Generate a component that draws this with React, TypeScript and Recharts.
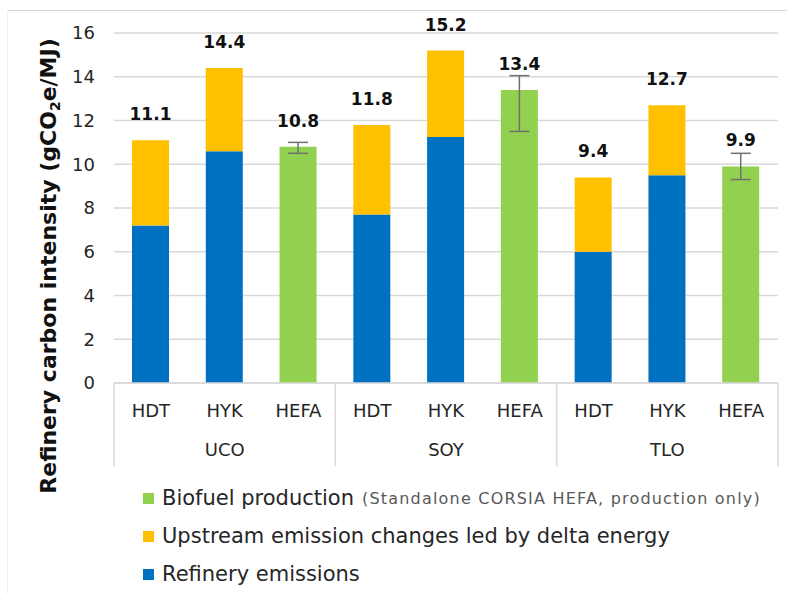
import React from 'react';
import { BarChart, Bar, XAxis, YAxis, CartesianGrid, ErrorBar, LabelList } from 'recharts';

const techs = ['HDT', 'HYK', 'HEFA', 'HDT', 'HYK', 'HEFA', 'HDT', 'HYK', 'HEFA'];
const feeds = ['UCO', 'UCO', 'UCO', 'SOY', 'SOY', 'SOY', 'TLO', 'TLO', 'TLO'];
const refineryEmissions = [7.2, 10.6, null, 7.7, 11.25, null, 6.0, 9.5, null];
const upstreamChanges = [3.9, 3.8, null, 4.1, 3.95, null, 3.4, 3.2, null];
const biofuelProduction = [null, null, 10.8, null, null, 13.4, null, null, 9.9];
const totals = [11.1, 14.4, 10.8, 11.8, 15.2, 13.4, 9.4, 12.7, 9.9];
// [minus, plus] around the HEFA value
const hefaError = [null, null, [0.3, 0.2], null, null, [1.9, 0.65], null, null, [0.6, 0.6]];
const yTicks = [0, 2, 4, 6, 8, 10, 12, 14, 16];

const rows = techs.map((tech, i) => ({
  tech,
  feed: feeds[i],
  refinery: refineryEmissions[i],
  upstream: upstreamChanges[i],
  biofuel: biofuelProduction[i],
  upLabel: upstreamChanges[i] == null ? null : totals[i],
  bioLabel: biofuelProduction[i] == null ? null : totals[i],
  err: hefaError[i],
}));

const FONT = '"DejaVu Sans", sans-serif';
const W = 787;
const H = 594;
const PLOT_LEFT = 114;
const PLOT_RIGHT = 778;
const STEP = (PLOT_RIGHT - PLOT_LEFT) / rows.length;

const CategoryTick = (props: any) => {
  const { x, y, payload } = props;
  const i = payload.index;
  return (
    <g>
      <text x={x} y={y + 29} textAnchor="middle" dominantBaseline="middle" fontSize={18} fill="#262626" fontFamily={FONT}>
        {payload.value}
      </text>
      {i % 3 === 1 && (
        <text x={x} y={y + 68} textAnchor="middle" dominantBaseline="middle" fontSize={18} fill="#262626" fontFamily={FONT}>
          {rows[i].feed}
        </text>
      )}
      {i % 3 === 0 && <line x1={x - STEP / 2} y1={y} x2={x - STEP / 2} y2={y + 83} stroke="#d9d9d9" strokeWidth={1.5} />}
      {i === rows.length - 1 && <line x1={x + STEP / 2} y1={y} x2={x + STEP / 2} y2={y + 83} stroke="#d9d9d9" strokeWidth={1.5} />}
    </g>
  );
};

const TotalLabel = (props: any) => {
  const { x, y, width, value } = props;
  if (value == null || value === '') return null;
  return (
    <text x={x + width / 2} y={y - 25} textAnchor="middle" dominantBaseline="middle" fontSize={17} fontWeight="bold" fill="#111" fontFamily={FONT}>
      {value}
    </text>
  );
};

const legendItems = [
  { color: '#92D050', label: 'Biofuel production', note: '(Standalone CORSIA HEFA, production only)' },
  { color: '#FFC000', label: 'Upstream emission changes led by delta energy', note: '' },
  { color: '#0070C0', label: 'Refinery emissions', note: '' },
];

export default function App() {
  return (
    <div style={{ position: 'absolute', left: 0, top: 0, width: W, height: H, background: '#fff', fontFamily: FONT }}>
      <div style={{ position: 'absolute', left: 7, top: 10, right: 0, height: 1, background: '#d4d4d4' }} />
      <div style={{ position: 'absolute', left: 7, top: 10, bottom: 0, width: 1, background: '#f0f0f0' }} />
      <BarChart width={W} height={H} data={rows} margin={{ top: 33, right: W - PLOT_RIGHT, left: 0, bottom: 97 }} barSize={37}>
        <CartesianGrid vertical={false} stroke="#d9d9d9" strokeWidth={1.5} />
        <XAxis
          dataKey="tech"
          interval={0}
          height={114}
          tickSize={0}
          tickMargin={0}
          tickLine={false}
          axisLine={{ stroke: '#d9d9d9', strokeWidth: 1.5 }}
          tick={<CategoryTick />}
        />
        <YAxis
          width={PLOT_LEFT}
          domain={[0, 16]}
          ticks={yTicks}
          axisLine={false}
          tickLine={false}
          tickMargin={13}
          tick={{ fontSize: 18, fill: '#262626', fontFamily: FONT }}
        />
        <Bar dataKey="refinery" stackId="a" fill="#0070C0" isAnimationActive={false} />
        <Bar dataKey="upstream" stackId="a" fill="#FFC000" isAnimationActive={false}>
          <LabelList dataKey="upLabel" content={<TotalLabel />} />
        </Bar>
        <Bar dataKey="biofuel" stackId="a" fill="#92D050" isAnimationActive={false}>
          <ErrorBar dataKey="err" width={10} stroke="#707070" strokeWidth={1.5} />
          <LabelList dataKey="bioLabel" content={<TotalLabel />} />
        </Bar>
        <text
          transform="translate(50,266) rotate(-90)"
          textAnchor="middle"
          dominantBaseline="middle"
          fontSize={22}
          fontWeight="bold"
          fill="#111"
          fontFamily={FONT}
        >
          Refinery carbon intensity (gCO
          <tspan fontSize={14} dy={6}>2</tspan>
          <tspan dy={-6}>e/MJ)</tspan>
        </text>
      </BarChart>
      <div style={{ position: 'absolute', left: 143, top: 479 }}>
        {legendItems.map((item) => (
          <div key={item.label} style={{ display: 'flex', alignItems: 'center', height: 38, whiteSpace: 'nowrap' }}>
            <span style={{ width: 11, height: 11, background: item.color, marginRight: 8 }} />
            <span style={{ fontSize: 21, color: '#262626' }}>{item.label}</span>
            {item.note && (
              <span style={{ fontSize: 16, letterSpacing: 1.2, color: '#595959', marginLeft: 8 }}>{item.note}</span>
            )}
          </div>
        ))}
      </div>
    </div>
  );
}
